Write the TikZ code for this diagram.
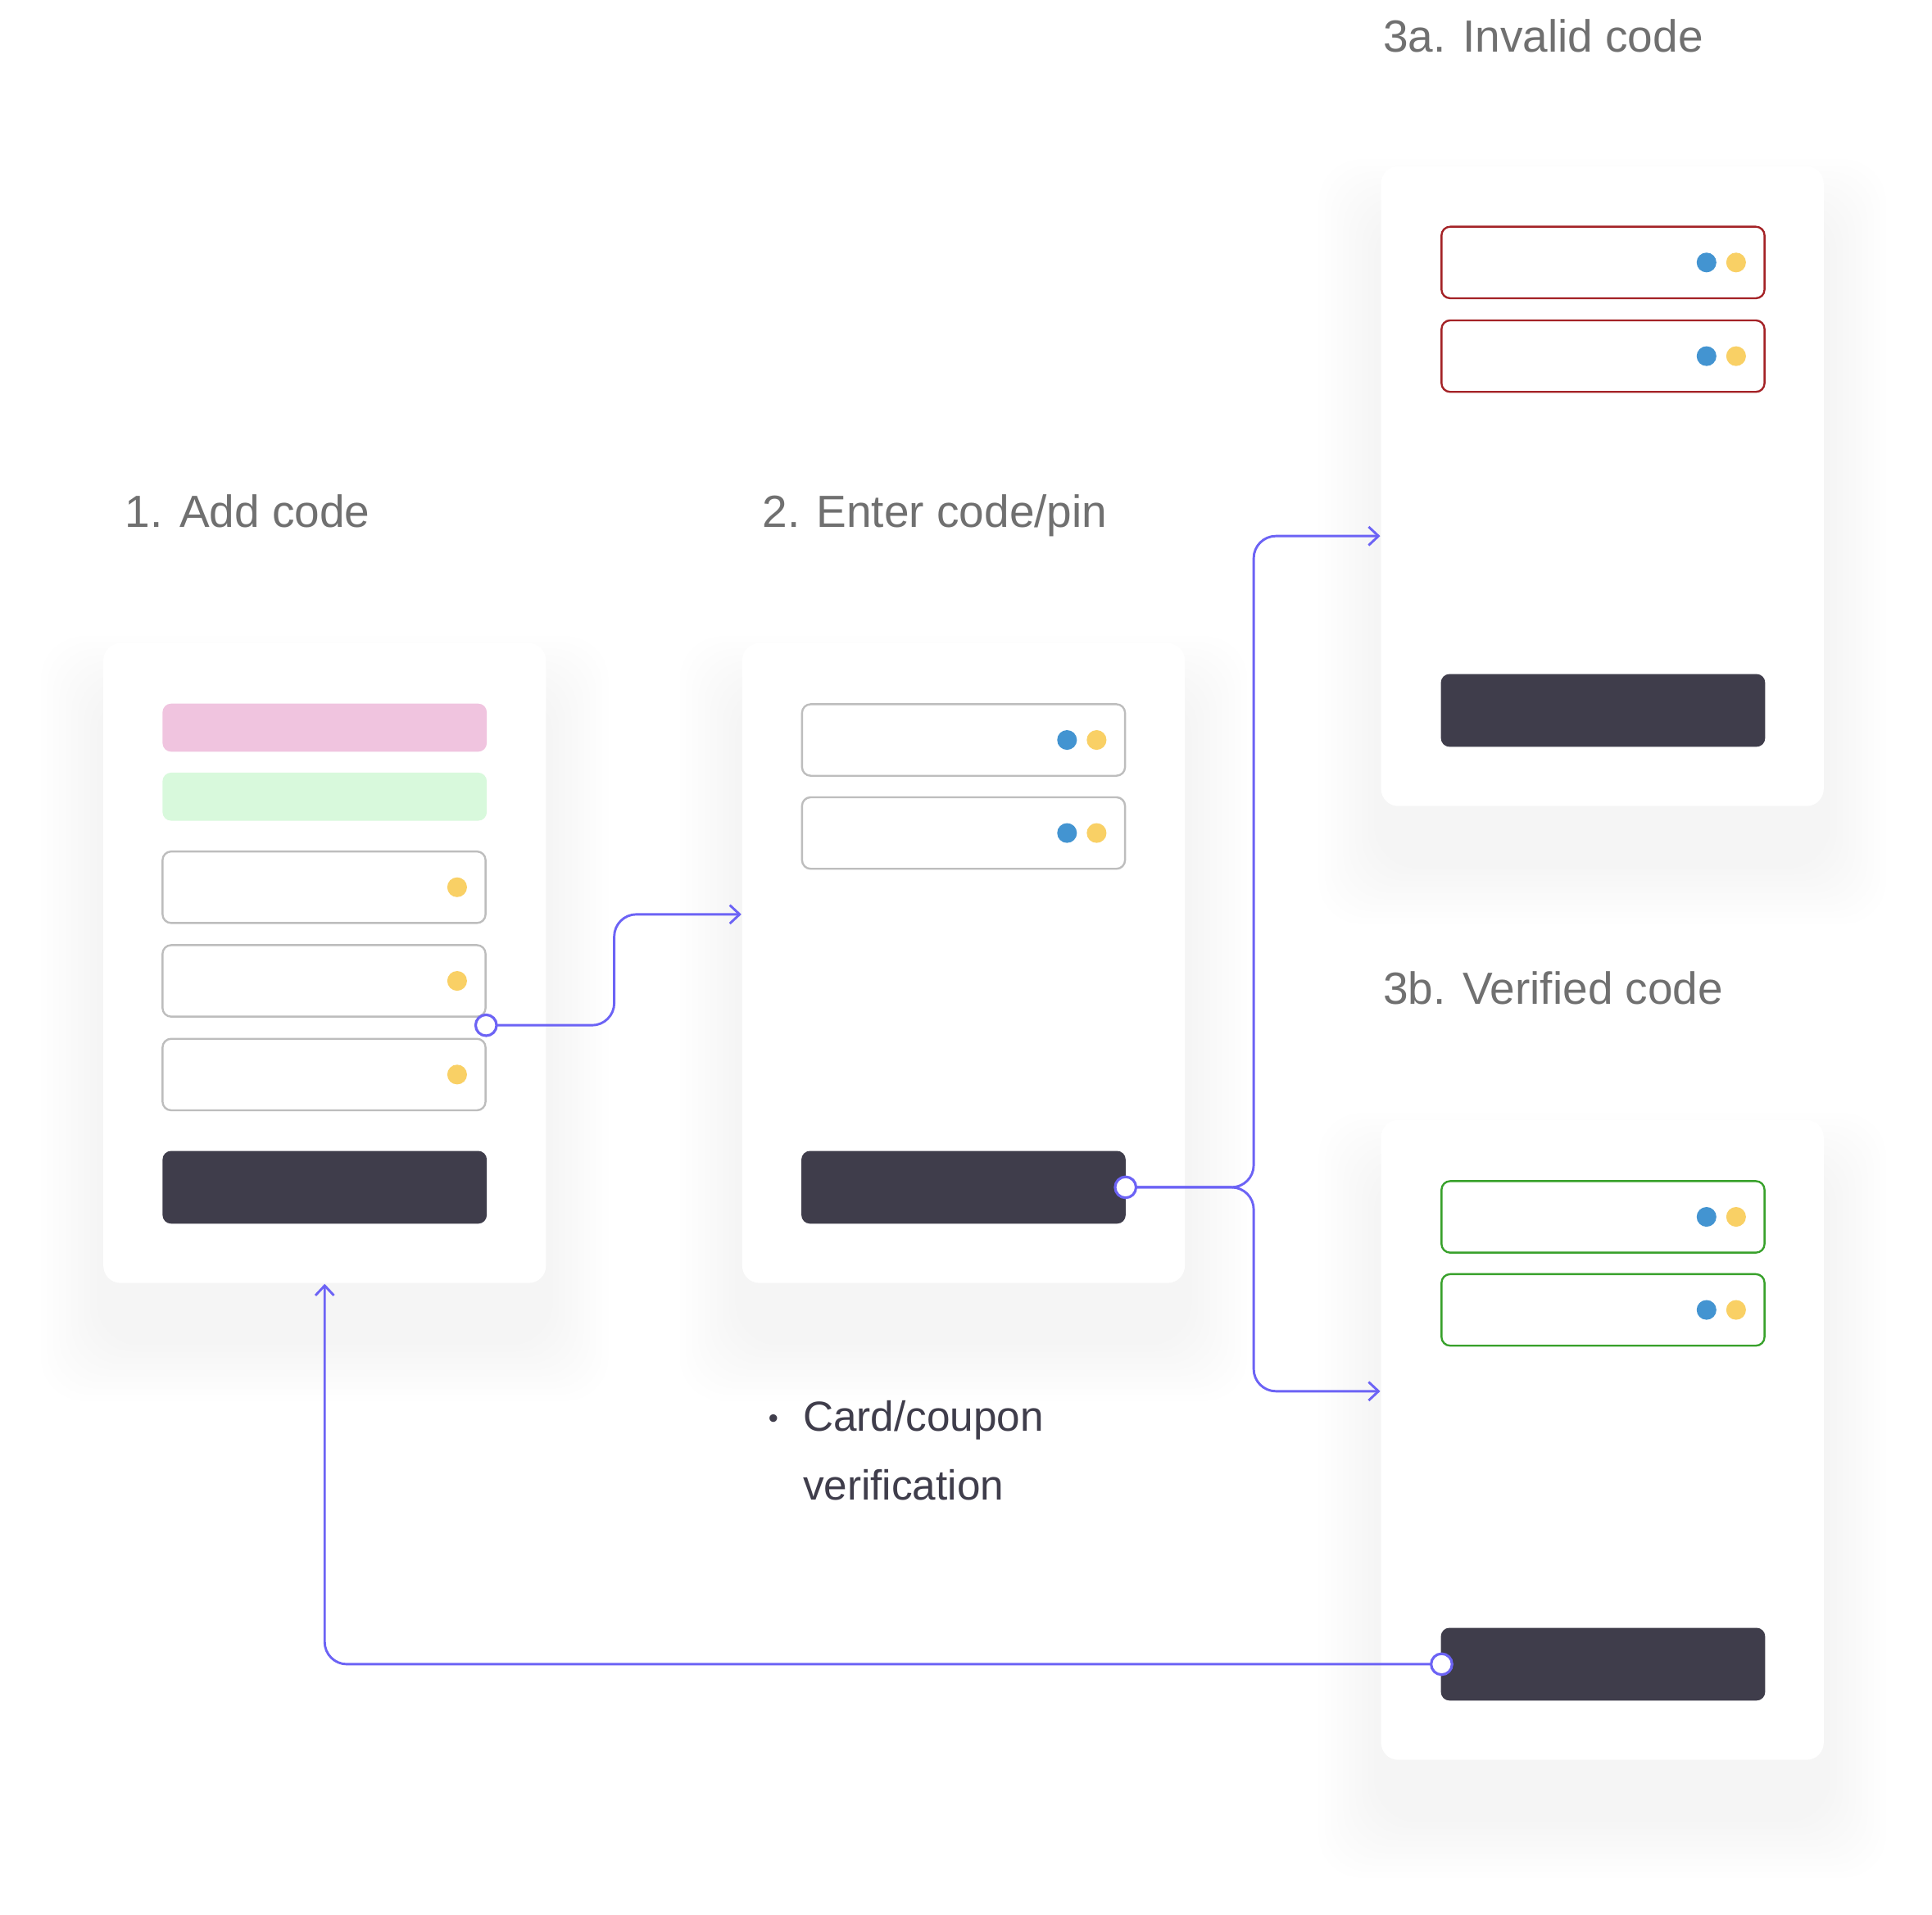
\documentclass[tikz,border=0pt]{standalone}
\usepackage{fontspec}
\setmainfont{Liberation Sans}
\usetikzlibrary{arrows.meta, backgrounds}

\definecolor{flowc}{HTML}{6C63F5}
\definecolor{btndark}{HTML}{3F3D4B}
\definecolor{fieldgray}{HTML}{BDBDBD}
\definecolor{dotyellow}{HTML}{F9D065}
\definecolor{dotblue}{HTML}{4394D1}
\definecolor{badred}{HTML}{A42226}
\definecolor{goodgreen}{HTML}{38A12B}
\definecolor{pinkbar}{HTML}{F0C4DF}
\definecolor{greenbar}{HTML}{D8F9DC}
\definecolor{titlegray}{HTML}{707070}

\begin{document}
\begin{tikzpicture}[x=0.01cm, y=-0.01cm,
    cardbox/.style={rectangle, rounded corners=0.14cm, fill=white, minimum width=3.59cm, minimum height=5.19cm},
    shadowlayer/.style={fill=black, fill opacity=0.0028, rounded corners=0.35cm},
    fieldbox/.style={rectangle, rounded corners=0.07cm, draw=fieldgray, line width=0.45pt, fill=white, minimum width=2.62cm, minimum height=0.58cm},
    barbox/.style={rectangle, rounded corners=0.07cm, minimum width=2.63cm, minimum height=0.39cm},
    btnbox/.style={rectangle, rounded corners=0.07cm, fill=btndark, minimum width=2.63cm, minimum height=0.59cm},
    dotc/.style={circle, inner sep=0pt, minimum size=0.16cm},
    port/.style={circle, draw=flowc, fill=white, line width=0.6pt, inner sep=0pt, minimum size=0.17cm},
    flow/.style={draw=flowc, line width=0.55pt, rounded corners=0.18cm, -{Straight Barb[length=0.08cm, width=0.15cm]}},
    steptitle/.style={anchor=base west, inner sep=0pt, text=titlegray, font=\fontsize{10.4}{12}\selectfont},
    note/.style={anchor=base west, inner sep=0pt, text=btndark, font=\fontsize{9.7}{12}\selectfont}]

        \useasboundingbox (0,0) rectangle (1568,1554);

        \node[steptitle] (t1) at (101,428) {1. Add code};
        \node[steptitle] (t2) at (618,428) {2. Enter code/pin};
        \node[steptitle] (t3a) at (1122,42) {3a. Invalid code};
        \node[steptitle] (t3b) at (1122,815) {3b. Verified code};

        \node[cardbox] (add) at (263.5,781.5) {};
        \node[cardbox] (enter) at (782,781.5) {};
        \node[cardbox] (invalid) at (1300.5,394.5) {};
        \node[cardbox] (verified) at (1300.5,1168.5) {};

        \begin{scope}[on background layer]
            \fill[white] (0,0) rectangle (1568,1554);
            \foreach \c in {add,enter,invalid,verified}
                \foreach \k in {1,...,10}
                    \fill[shadowlayer] ([xshift=-0.05*\k cm, yshift=-0.45cm+0.05*\k cm]\c.north west)
                        rectangle ([xshift=0.05*\k cm, yshift=-0.45cm-0.05*\k cm]\c.south east);
        \end{scope}

        \node[barbox, fill=pinkbar] (pink) at (263.5,590.5) {};
        \node[barbox, fill=greenbar] (green) at (263.5,646.5) {};
        \node[fieldbox] (a1) at (263,720) {};
        \node[fieldbox] (a2) at (263,796) {};
        \node[fieldbox] (a3) at (263,872) {};
        \node[dotc, fill=dotyellow] (a1y) at (371,720) {};
        \node[dotc, fill=dotyellow] (a2y) at (371,796) {};
        \node[dotc, fill=dotyellow] (a3y) at (371,872) {};
        \node[btnbox] (addbtn) at (263.5,963.5) {};

        \node[fieldbox] (e1) at (782,600.5) {};
        \node[fieldbox] (e2) at (782,676) {};
        \node[dotc, fill=dotblue] (e1b) at (866,600.5) {};
        \node[dotc, fill=dotyellow] (e1y) at (890,600.5) {};
        \node[dotc, fill=dotblue] (e2b) at (866,676) {};
        \node[dotc, fill=dotyellow] (e2y) at (890,676) {};
        \node[btnbox] (enterbtn) at (782,963.5) {};

        \node[fieldbox, draw=badred] (i1) at (1301,213) {};
        \node[fieldbox, draw=badred] (i2) at (1301,289) {};
        \node[dotc, fill=dotblue] (i1b) at (1385,213) {};
        \node[dotc, fill=dotyellow] (i1y) at (1409,213) {};
        \node[dotc, fill=dotblue] (i2b) at (1385,289) {};
        \node[dotc, fill=dotyellow] (i2y) at (1409,289) {};
        \node[btnbox] (invalidbtn) at (1301,576.5) {};

        \node[fieldbox, draw=goodgreen] (v1) at (1301,987.5) {};
        \node[fieldbox, draw=goodgreen] (v2) at (1301,1063) {};
        \node[dotc, fill=dotblue] (v1b) at (1385,987.5) {};
        \node[dotc, fill=dotyellow] (v1y) at (1409,987.5) {};
        \node[dotc, fill=dotblue] (v2b) at (1385,1063) {};
        \node[dotc, fill=dotyellow] (v2y) at (1409,1063) {};
        \node[btnbox] (verifiedbtn) at (1301,1350.5) {};

        \node[note, font=\fontsize{6.5}{7}\selectfont] (bullet) at (623,1159) {•};
        \node[note] (cc1) at (651,1161.5) {Card/coupon};
        \node[note] (cc2) at (651,1217) {verification};

        \coordinate (p1) at (394.5,832);
        \coordinate (p2) at (913.5,963.5);
        \coordinate (p3) at (1170,1350.5);
        \coordinate (j1) at (498.5,742);
        \coordinate (j2) at (1017.5,435);
        \coordinate (j3) at (1017.5,1129);

        \draw[flow] (p1) -| (j1) -- (enter.west |- j1);
        \draw[flow] (p2) -| (j2) -- (invalid.west |- j2);
        \draw[flow] (p2) -| (j3) -- (verified.west |- j3);
        \draw[flow] (p3) -| (add.south);

        \node[port] (p1c) at (p1) {};
        \node[port] (p2c) at (p2) {};
        \node[port] (p3c) at (p3) {};
    \end{tikzpicture}
\end{document}
